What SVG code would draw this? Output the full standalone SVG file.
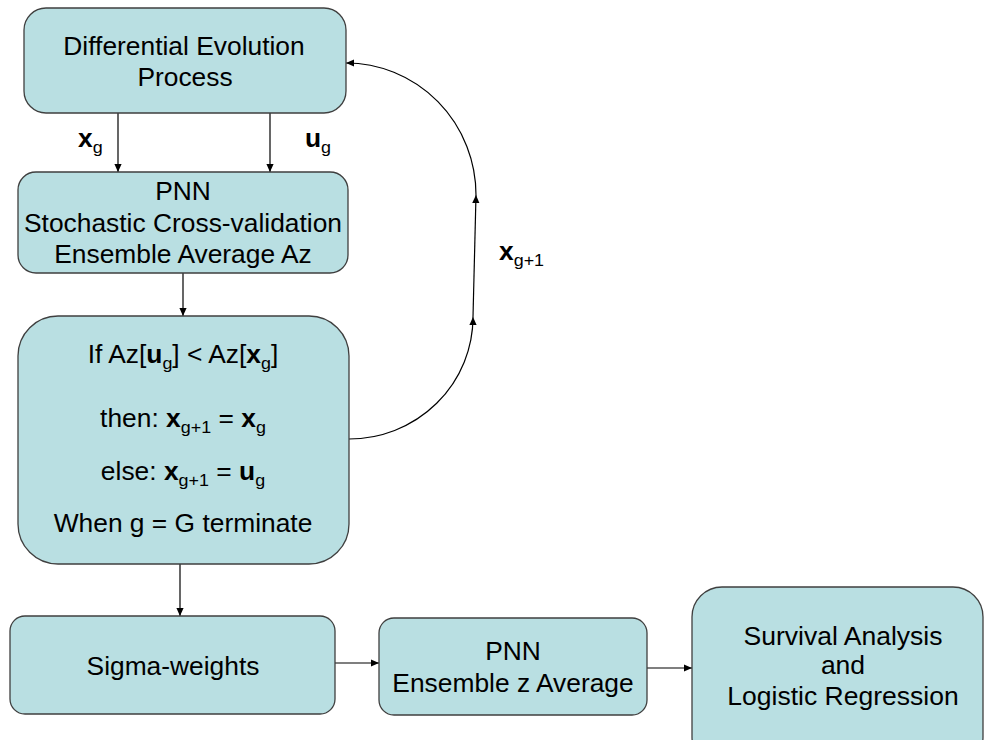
<svg xmlns="http://www.w3.org/2000/svg" width="984" height="740" viewBox="0 0 984 740">
<defs>
<style>
.box{fill:#B9DFE2;stroke:#3F3F3F;stroke-width:1.3}
.t{font-family:"Liberation Sans",Arial,sans-serif;font-size:25px;fill:#000;text-anchor:middle}
.l{font-family:"Liberation Sans",Arial,sans-serif;font-size:25px;fill:#000;text-anchor:start}
.b{font-weight:bold}
.s{font-size:17px;font-weight:normal}
.c{fill:none;stroke:#000;stroke-width:1.2;marker-end:url(#ah)}
</style>
<marker id="ah" viewBox="0 0 10 10" refX="10" refY="5" markerWidth="8" markerHeight="8" markerUnits="userSpaceOnUse" orient="auto">
<path d="M0,0.5 L10,5 L0,9.5 z" fill="#000"/>
</marker>
</defs>
<rect width="984" height="740" fill="#FFFFFF"/>

<g id="connectors">
<path class="c" d="M118 113 V172"/>
<path class="c" d="M270 113 V172"/>
<path class="c" d="M183 273 V316"/>
<path class="c" d="M180 564 V616"/>
<path class="c" d="M335 663 H379"/>
<path class="c" d="M647 668 H692"/>
<path class="c" d="M349 439 A124 122 0 0 0 473 317"/>
<path class="c" d="M473 317 L476 195"/>
<path class="c" d="M476 195 A130 132 0 0 0 346 63"/>
<text class="l" transform="translate(78 147) scale(1.055 1)"><tspan class="b">x</tspan><tspan class="s" dy="6">g</tspan></text>
<text class="l" transform="translate(305 147) scale(1.055 1)"><tspan class="b">u</tspan><tspan class="s" dy="6">g</tspan></text>
<text class="l" transform="translate(499 260) scale(1.055 1)"><tspan class="b">x</tspan><tspan class="s" dy="6">g+1</tspan></text>
</g>

<g id="de">
<rect class="box" x="24" y="8" width="322" height="105" rx="22"/>
<text class="t" transform="translate(184 55) scale(1.055 1)">Differential Evolution</text>
<text class="t" transform="translate(185 86) scale(1.055 1)">Process</text>
</g>

<g id="pnn1">
<rect class="box" x="18" y="172" width="330" height="101" rx="18"/>
<text class="t" transform="translate(183 200) scale(1.055 1)">PNN</text>
<text class="t" transform="translate(183 232) scale(1.055 1)">Stochastic Cross-validation</text>
<text class="t" transform="translate(183 263) scale(1.055 1)">Ensemble Average Az</text>
</g>

<g id="decision">
<rect class="box" x="18" y="316" width="331" height="248" rx="40"/>
<text class="t" transform="translate(183 363) scale(1.055 1)">If Az[<tspan class="b">u</tspan><tspan class="s" dy="6">g</tspan><tspan dy="-6">] &lt; Az[</tspan><tspan class="b">x</tspan><tspan class="s" dy="6">g</tspan><tspan dy="-6">]</tspan></text>
<text class="t" transform="translate(183 427) scale(1.055 1)">then: <tspan class="b">x</tspan><tspan class="s" dy="6">g+1</tspan><tspan dy="-6"> = </tspan><tspan class="b">x</tspan><tspan class="s" dy="6">g</tspan></text>
<text class="t" transform="translate(183 480) scale(1.055 1)">else: <tspan class="b">x</tspan><tspan class="s" dy="6">g+1</tspan><tspan dy="-6"> = </tspan><tspan class="b">u</tspan><tspan class="s" dy="6">g</tspan></text>
<text class="t" transform="translate(183 532) scale(1.055 1)">When g = G terminate</text>
</g>

<g id="sigma">
<rect class="box" x="10" y="616" width="325" height="98" rx="15"/>
<text class="t" transform="translate(173 675) scale(1.055 1)">Sigma-weights</text>
</g>

<g id="pnn2">
<rect class="box" x="379" y="618" width="268" height="97" rx="15"/>
<text class="t" transform="translate(513 660) scale(1.055 1)">PNN</text>
<text class="t" transform="translate(513 692) scale(1.055 1)">Ensemble z Average</text>
</g>

<g id="survival">
<rect class="box" x="692" y="587" width="291" height="180" rx="30"/>
<text class="t" transform="translate(843 645) scale(1.02 1)" style="font-size:26px">Survival Analysis</text>
<text class="t" transform="translate(843 674) scale(1.02 1)" style="font-size:26px">and</text>
<text class="t" transform="translate(843 705) scale(1.02 1)" style="font-size:26px">Logistic Regression</text>
</g>
</svg>
